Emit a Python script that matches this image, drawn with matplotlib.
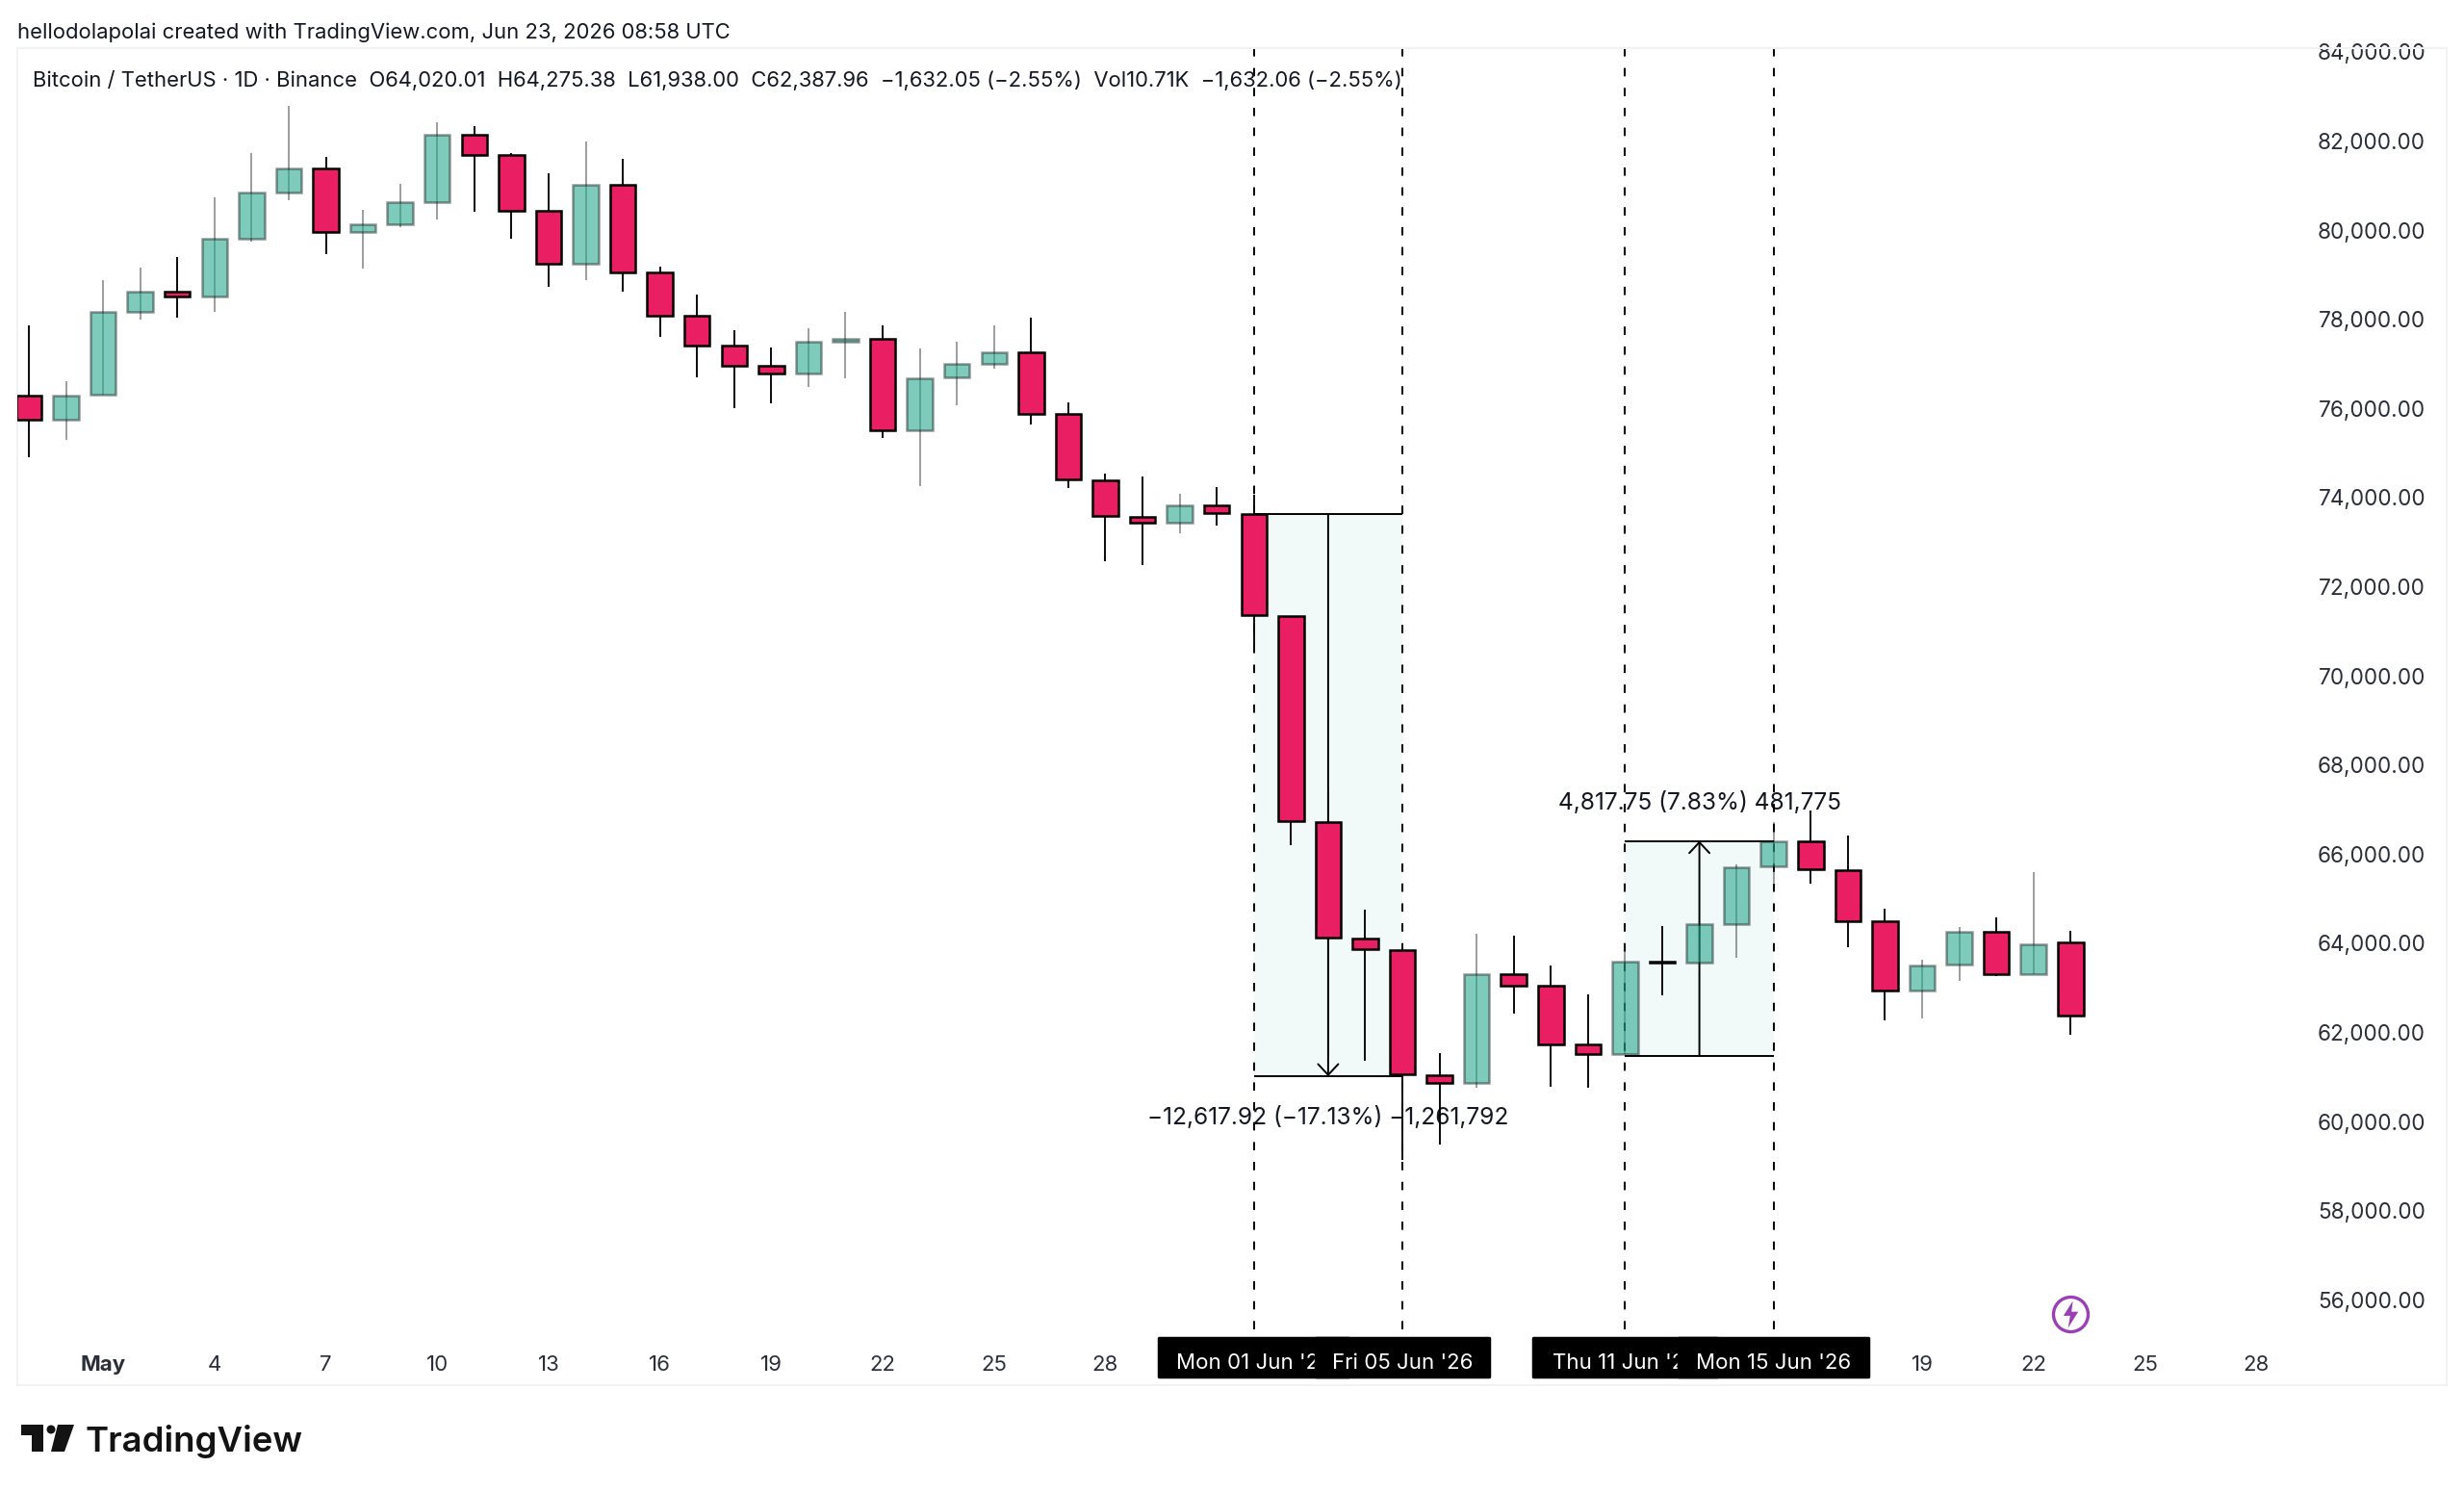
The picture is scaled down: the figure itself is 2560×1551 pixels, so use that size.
import matplotlib
matplotlib.use("Agg")
import matplotlib.pyplot as plt
from matplotlib.patches import Polygon, Circle, Rectangle

plt.rcParams["font.family"] = ["Inter", "DejaVu Sans"]

W, H = 2560, 1551
PX_PER_PT = 100 / 72

# one daily bar per entry, 29 Apr to 23 Jun 2026
opens = [76288, 75741, 76303, 78175, 78628, 78520, 79802, 80846, 81386, 79953,
         80126, 80623, 82142, 81681, 80443, 79248, 81026, 79046, 78088, 77412,
         76958, 76792, 77491, 77567, 75504, 76700, 77008, 77259, 75870, 74385,
         73566, 73430, 73826, 73633, 71350, 66722, 64108, 63850, 61040, 60865,
         63313, 63055, 61722, 61505, 63581, 63571, 64439, 65730, 66298, 65637,
         64488, 62940, 63523, 64264, 63300, 64020.01]
highs = [77858, 76620, 78873, 79154, 79399, 80738, 81732, 82790, 81652, 80450,
         81033, 82430, 82329, 81724, 81271, 81991, 81609, 79176, 78556, 77750,
         77376, 77800, 78160, 77857, 77346, 77490, 77857, 78030, 76140, 74540,
         74482, 74096, 74241, 74056, 71350, 67496, 64749, 63900, 61526, 64222,
         64180, 63499, 62848, 63912, 64377, 64428, 65771, 66720, 66970, 66412,
         64776, 63638, 64372, 64574, 65596, 64275.38]
lows = [74913, 75288, 76303, 78002, 78038, 78160, 79752, 80680, 79456, 79147,
        80075, 80234, 80414, 79802, 78722, 78880, 78621, 77606, 76706, 76008,
        76108, 76490, 76684, 75330, 74260, 76073, 76892, 75648, 74212, 72563,
        72495, 73190, 73382, 70673, 66205, 61453, 61371, 59129, 59491, 60751,
        62414, 60772, 60751, 61505, 62827, 63571, 63674, 65358, 65348, 63912,
        62270, 62306, 63163, 63263, 63300, 61938.00]
closes = [75741, 76288, 78175, 78628, 78506, 79802, 80846, 81386, 79953, 80126,
          80623, 82142, 81681, 80443, 79248, 81026, 79053, 78088, 77412, 76958,
          76792, 77491, 77570, 75504, 76680, 77008, 77259, 75880, 74405, 73594,
          73430, 73826, 73652, 71370, 66742, 64129, 63860, 61050, 60865, 63313,
          63055, 61732, 61505, 63592, 63570, 64428, 65709, 66298, 65658, 64501,
          62940, 63508, 64264, 63300, 63984, 62387.96]

price_ticks = list(range(56000, 84001, 2000))
date_ticks = [2, 5, 8, 11, 14, 17, 20, 23, 26, 29, 51, 54, 57, 60]
date_labels = ["May", "4", "7", "10", "13", "16", "19", "22", "25", "28", "19", "22", "25", "28"]

# measure tool drawings: start bar, end bar, top price, bottom price
ranges = [(33, 37, 73632.92, 61015.00), (43, 47, 66298.01, 61480.26)]
range_labels = ["\u221212,617.92 (\u221217.13%) \u22121,261,792", "4,817.75 (7.83%) 481,775"]
range_dirs = ["down", "up"]
date_marks = [33, 37, 43, 47]
date_names = ["Mon 01 Jun '26", "Fri 05 Jun '26", "Thu 11 Jun '26", "Mon 15 Jun '26"]
date_halfwidths = [2.55, 2.33, 2.47, 2.55]

header = "hellodolapolai created with TradingView.com, Jun 23, 2026 08:58 UTC"
legend = ("Bitcoin / TetherUS \u00b7 1D \u00b7 Binance  O64,020.01  H64,275.38  L61,938.00  C62,387.96  "
          "\u22121,632.05 (\u22122.55%)  Vol10.71K  \u22121,632.06 (\u22122.55%)")

# up candles are see-through in the original, drawings show through them
GREEN = (0.16, 0.66, 0.56, 0.6)
GREY_EDGE = (0, 0, 0, 0.4)
RED = "#E91E63"
INK = "#131722"
PURPLE = "#9A3FB5"

fig = plt.figure(figsize=(W / 100, H / 100), dpi=100, facecolor="white")
ax = fig.add_axes([18 / W, 1 - 1439 / H, (2542 - 18) / W, (1439 - 50) / H])
ax.set_xlim(-0.31, 65.13)
ax.set_ylim(54084, 84086)

for spine in ax.spines.values():
    spine.set_color("#F1F2F4")
    spine.set_linewidth(1.5)

# measure ranges sit under the candles
for (x0, x1, top, bottom), label, direction in zip(ranges, range_labels, range_dirs):
    mid = (x0 + x1) / 2
    ax.add_patch(Rectangle((x0, bottom), x1 - x0, top - bottom, facecolor="#7DCDCD",
                           alpha=0.1, edgecolor="none", zorder=1))
    ax.hlines([top, bottom], x0, x1, color="black", linewidth=1.4, zorder=1.5)
    tail, tip = (top, bottom) if direction == "down" else (bottom, top)
    ax.annotate("", xy=(mid, tip), xytext=(mid, tail), zorder=1.5,
                arrowprops=dict(arrowstyle="->,head_length=0.45,head_width=0.42", color="black",
                                linewidth=1.4, shrinkA=0, shrinkB=0, mutation_scale=18))
    offset = -31 if direction == "down" else 28.5
    ax.annotate(label, xy=(mid, tip), xytext=(0, offset), textcoords="offset points",
                ha="center", va="center", fontsize=17.6, color=INK, zorder=1.4)

for x in date_marks:
    ax.axvline(x, ymin=58 / 1389, ymax=1, color="black", linewidth=1.45,
               linestyle=(0, (4.3, 5.96)), zorder=1.6)

# candles
for i in range(len(opens)):
    up = closes[i] >= opens[i]
    edge = GREY_EDGE if up else "black"
    ax.vlines(i, lows[i], highs[i], color=edge, linewidth=1.35, zorder=2)
    ax.bar(i, abs(closes[i] - opens[i]), bottom=min(opens[i], closes[i]), width=0.687,
           facecolor=GREEN if up else RED, edgecolor=edge, linewidth=1.8, zorder=3)

# axes labels sit inside the frame
ax.set_yticks(price_ticks)
ax.set_yticklabels([f"{p:,.2f}" for p in price_ticks], fontsize=16.2, color="#2A2E39")
ax.yaxis.tick_right()
ax.tick_params(axis="y", length=0, pad=-22 / PX_PER_PT)
plt.setp(ax.get_yticklabels(), ha="right", va="center_baseline")

ax.set_xticks(date_ticks)
ax.set_xticklabels(date_labels, fontsize=16, color="#2A2E39")
ax.tick_params(axis="x", length=0, pad=-31 / PX_PER_PT)
ax.get_xticklabels()[0].set_fontweight("bold")

# date flags over the time axis, later ones cover the earlier ones
trans = ax.get_xaxis_transform()
for n, (x, name, hw) in enumerate(zip(date_marks, date_names, date_halfwidths)):
    ax.add_patch(Rectangle((x - hw, 9 / 1389), 2 * hw, 40 / 1389, transform=trans,
                           facecolor="black", edgecolor="black", linewidth=2.5,
                           joinstyle="round", zorder=10 + 2 * n, clip_on=False))
    ax.text(x, 23 / 1389, name, transform=trans, ha="center", va="center", fontsize=16,
            color="white", zorder=11 + 2 * n)

# lightning marker next to the last bar
bolt = [(0.15, 1.0), (-0.55, -0.1), (-0.05, -0.1), (-0.2, -1.0), (0.55, 0.2), (0.05, 0.2)]
ax.plot([55], [55682], marker="o", markersize=36 / PX_PER_PT, markerfacecolor="none",
        markeredgecolor=PURPLE, markeredgewidth=2.4, linestyle="none", zorder=8)
ax.plot([55], [55682], marker=bolt, markersize=28 / PX_PER_PT, color=PURPLE,
        markeredgewidth=0, linestyle="none", zorder=8)

# text above and below the frame
fig.text(18 / W, 1 - 34 / H, header, ha="left", va="center", fontsize=15.85, color=INK)
fig.text(34 / W, 1 - 84 / H, legend, ha="left", va="center", fontsize=15.85, color=INK)

# logo
def to_fig(pts):
    return [(x / W, 1 - y / H) for x, y in pts]

fig.add_artist(Polygon(to_fig([(22, 1480), (45, 1480), (45, 1508), (33, 1508), (33, 1491), (22, 1491)]),
                       closed=True, facecolor="#131313", edgecolor="none", transform=fig.transFigure))
fig.add_artist(Polygon(to_fig([(60, 1480), (77, 1480), (67, 1508), (53, 1508)]),
                       closed=True, facecolor="#131313", edgecolor="none", transform=fig.transFigure))
fig.add_artist(Circle((53 * 1.0, H - 1485), 4.5, facecolor="#131313", edgecolor="none",
                      transform=None))
fig.text(89 / W, 1 - 1508 / H, "TradingView", ha="left", va="baseline", fontsize=26.3,
         fontweight="semibold", color="#131313")

fig.savefig("out.png", dpi=100, facecolor="white")
